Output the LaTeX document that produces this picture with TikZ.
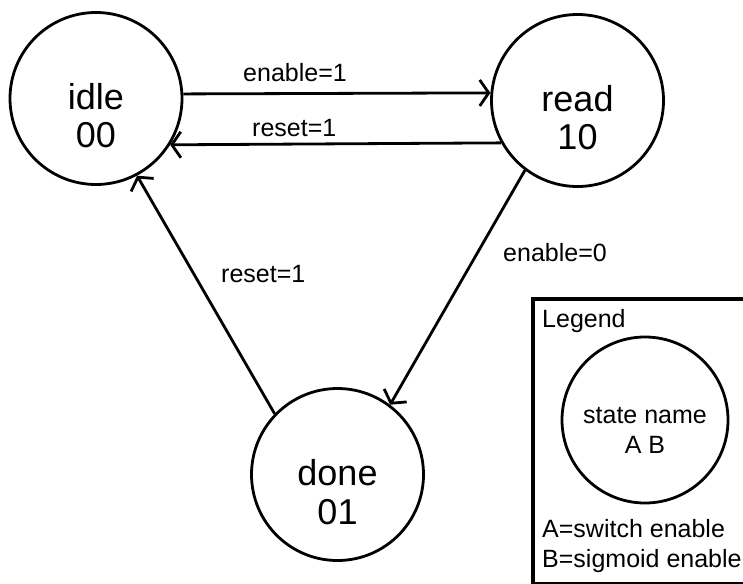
\documentclass[tikz,border=0pt]{standalone}
\usepackage{fontspec}
\setmainfont{Liberation Sans}
\usetikzlibrary{arrows.meta}
\begin{document}
\begin{tikzpicture}[x=1pt,y=-1pt,
  state/.style={circle, draw, line width=2.8pt, minimum size=172pt, inner sep=0pt},
  keystate/.style={state, minimum size=166pt},
  bigtext/.style={font=\fontsize{36}{38}\selectfont, inner sep=0pt, anchor=base},
  smalltext/.style={font=\fontsize{25}{30}\selectfont, inner sep=0pt},
  trans/.style={line width=2.8pt, -{Straight Barb[length=9pt,width=26pt]}}
]
% page
\fill[white] (0,0) rectangle (743,583);
\clip (0,0) rectangle (743,583);

% states
\node[state] (idle) at (96,98.5) {};
\node[state] (read) at (577.5,100.5) {};
\node[state] (done) at (337.5,474.5) {};

\node[bigtext] (idle-name) at (96,109.5) {idle};
\node[bigtext] (idle-code) at (96,147.5) {00};
\node[bigtext] (read-name) at (577.5,111.5) {read};
\node[bigtext] (read-code) at (577.5,149.5) {10};
\node[bigtext] (done-name) at (337.5,485.5) {done};
\node[bigtext] (done-code) at (337.5,524.5) {01};

% transitions
\draw[trans] (idle.3.67) -- (read.175);
\draw[trans] (read.209.6) -- (idle.328.8);
\draw[trans] (read.233.7) -- (done.53.2);
\draw[trans] (done.136.4) -- (idle.298.8);

\node[smalltext, anchor=base west] (lbl-en1) at (243,82) {enable=1};
\node[smalltext, anchor=base west] (lbl-rs1) at (252,136) {reset=1};
\node[smalltext, anchor=base west] (lbl-en0) at (503,261) {enable=0};
\node[smalltext, anchor=base west] (lbl-rs2) at (221,282) {reset=1};

% legend
\draw[line width=3.5pt] (533,299) rectangle (747,584);
\node[smalltext, anchor=base west] (legend-title) at (542,327) {Legend};
\node[keystate] (key) at (645,420) {};
\node[smalltext, anchor=base] (key-name) at (645,423) {state name};
\node[smalltext, anchor=base] (key-code) at (645,453) {A B};
\node[smalltext, anchor=base west] (key-a) at (542,537) {A=switch enable};
\node[smalltext, anchor=base west] (key-b) at (542,567) {B=sigmoid enable};
\end{tikzpicture}
\end{document}
